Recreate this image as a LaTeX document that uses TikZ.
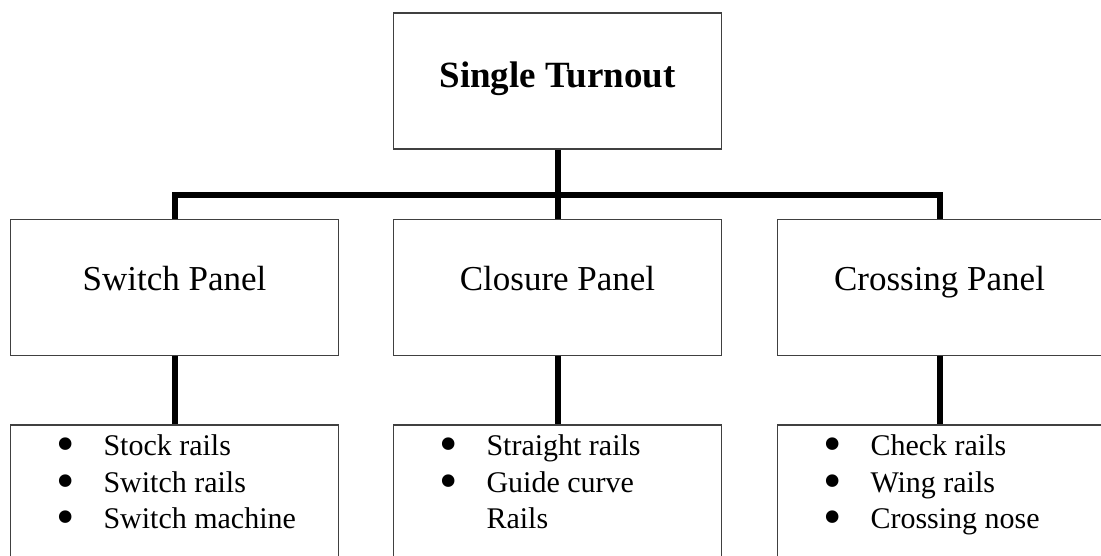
\documentclass[tikz,border=0pt]{standalone}
\usepackage{fontspec}
\setmainfont{Liberation Serif}
\usetikzlibrary{positioning}

\newcommand{\railitem}[1]{\hspace*{46pt}\makebox[47pt][l]{\raisebox{-6pt}[0pt][0pt]{\scalebox{1.75}{\textbullet}}}#1}

\begin{document}
\begin{tikzpicture}[x=1pt, y=1pt,
    box/.style={draw=black!75, line width=1.5pt, inner sep=0pt,
                minimum width=328pt, minimum height=136pt},
    headbox/.style={box, font=\fontsize{37}{44}\selectfont\bfseries,
                    text height=26pt, text depth=12pt},
    panelbox/.style={box, font=\fontsize{35}{42}\selectfont,
                     text height=24pt, text depth=18pt},
    listbox/.style={box, font=\fontsize{30}{36.5}\selectfont,
                    text height=22pt, text depth=96pt},
    link/.style={line width=6pt}]

    \useasboundingbox (0,0) rectangle (1101,556);

    % top of the tree
    \node[headbox] (turnout) at (557.5,475) {Single Turnout};

    % the three panels
    \node[panelbox, below=69pt of turnout] (closure) {Closure Panel};
    \node[panelbox, left=53.5pt of closure] (switch) {Switch Panel};
    \node[panelbox, right=54.5pt of closure,
          minimum width=324pt] (crossing) {Crossing Panel};

    % parts of each panel
    \node[listbox, below=68pt of switch] (switchparts) {%
        \begin{minipage}[t]{328pt}
        \railitem{Stock rails}\\
        \railitem{Switch rails}\\
        \railitem{Switch machine}
        \end{minipage}};
    \node[listbox, below=68pt of closure] (closureparts) {%
        \begin{minipage}[t]{328pt}
        \railitem{Straight rails}\\
        \railitem{Guide curve}\\
        \hspace*{93pt}Rails
        \end{minipage}};
    \node[listbox, below=68pt of crossing,
          minimum width=324pt] (crossingparts) {%
        \begin{minipage}[t]{324pt}
        \railitem{Check rails}\\
        \railitem{Wing rails}\\
        \railitem{Crossing nose}
        \end{minipage}};

    % connectors
    \coordinate (bus) at ([yshift=-45pt]turnout.south);
    \draw[link] (turnout.south) -- (closure.north);
    \draw[link] (switch.north) |- (bus) -| (crossing.north);
    \draw[link] (switch.south) -- (switchparts.north);
    \draw[link] (closure.south) -- (closureparts.north);
    \draw[link] (crossing.south) -- (crossingparts.north);
\end{tikzpicture}
\end{document}
